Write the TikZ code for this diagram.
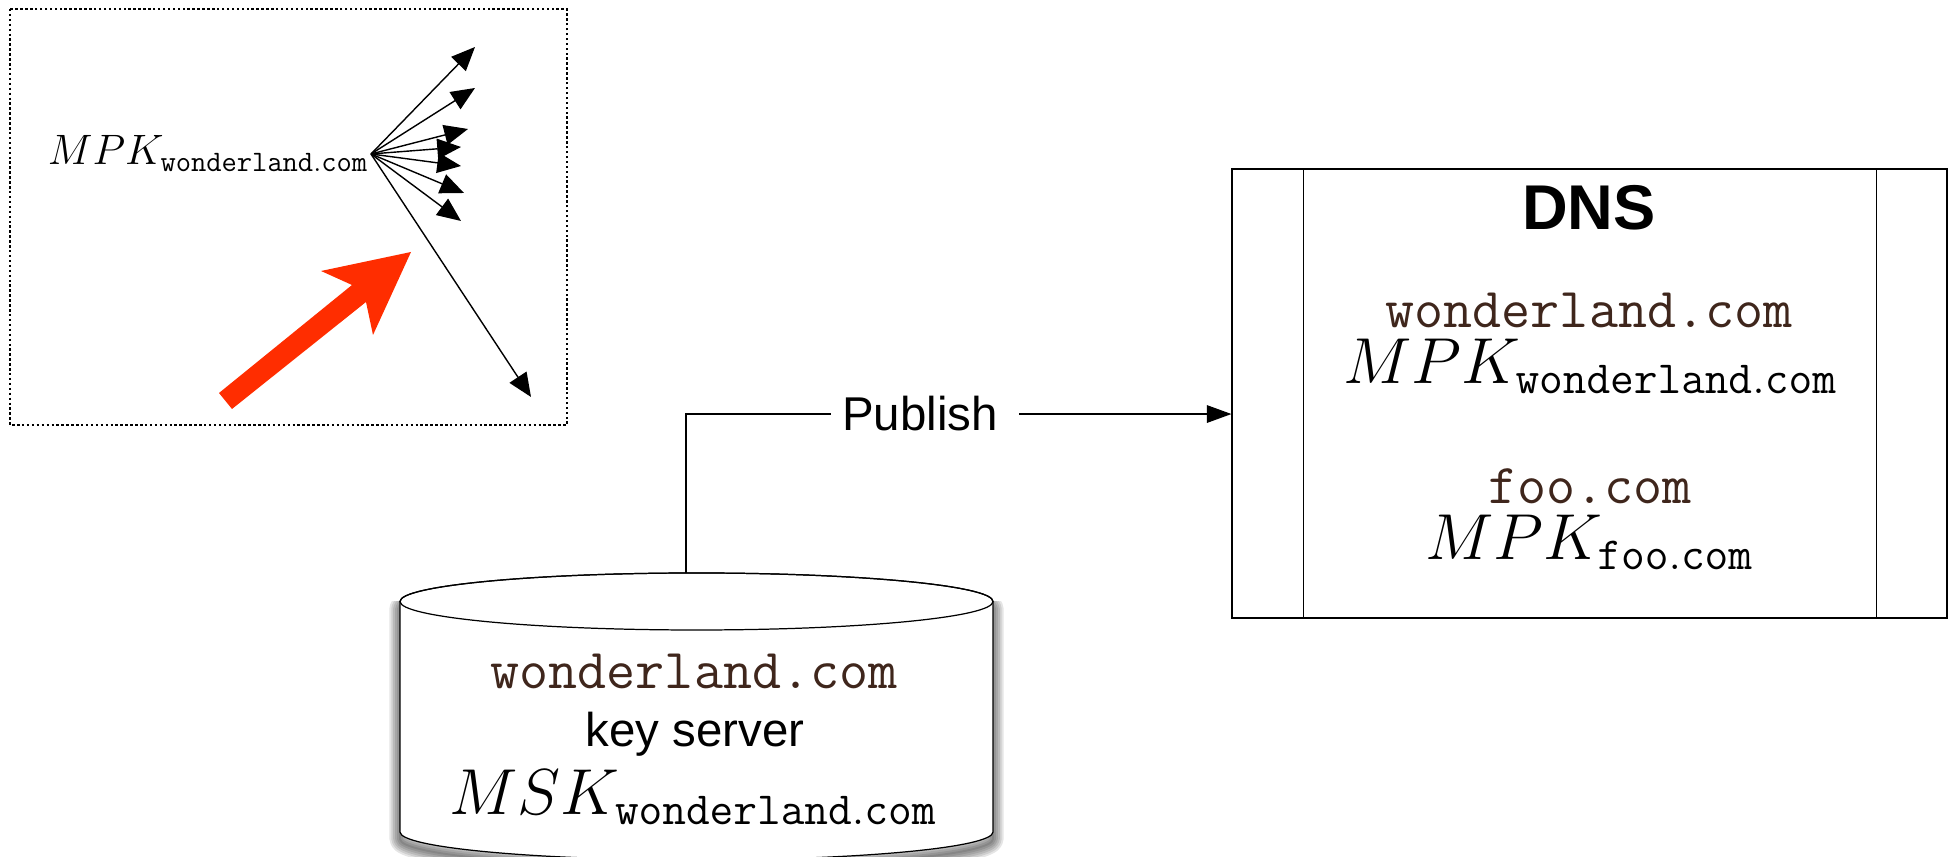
\documentclass[tikz,border=0pt]{standalone}
\usepackage{amsmath}
\usepackage{fix-cm}
\usepackage[no-math]{fontspec}
\setmainfont{Liberation Sans}
\usetikzlibrary{positioning,calc,arrows.meta}

\DeclareMathSizes{37}{37}{26.2}{20}
\DeclareMathSizes{24.2}{24.2}{16.9}{12}

\definecolor{domainbrown}{HTML}{3F261C}
\definecolor{alertred}{HTML}{FF2D00}

\tikzset{
  domaintext/.style={anchor=base,inner sep=0pt,text=domainbrown,font={\fontsize{32.1}{35}\selectfont\ttfamily}},
  keyname/.style={anchor=base,inner sep=0pt,font={\fontsize{37}{40}\selectfont}},
  plainlabel/.style={anchor=base,inner sep=0pt,font={\fontsize{27}{30}\selectfont}},
  fanarrow/.style={line width=0.8pt,-{Triangle[length=13.5pt,width=11.5pt]}},
  publine/.style={line width=0.7pt},
}

\begin{document}
\begin{tikzpicture}[x=0.02cm,y=0.02cm]

\useasboundingbox (0,0) rectangle (1953,857);

\def\serverbody{(400,255.5) -- (400,25) arc[start angle=180,end angle=360,x radius=296.5,y radius=28] -- (993,255.5) arc[start angle=0,end angle=180,x radius=296.5,y radius=28.5]}

% master key panel
\draw[line width=1.6pt,dash pattern=on 1.4pt off 1.4pt] (10,848) rectangle (567,432);
\node[anchor=base,inner sep=0pt,font={\fontsize{24.2}{27}\selectfont}] (panelkey) at (208,692) {$MPK_{\mathtt{wonderland.com}}$};

\coordinate (fan) at (371,703);
\foreach \i/\tipx/\tipy in {1/475/810,2/475/769,3/468/728,4/461/710,5/461/691,6/464/664,7/461/636,8/531/460}{
  \coordinate (tip\i) at (\tipx,\tipy);
  \draw[fanarrow] (fan) -- (tip\i);
}

\fill[alertred] (219,464) -- (232,448) -- (366,555) -- (373,522) -- (411,605) -- (321,586) -- (352,572) -- cycle;

% key server
\begin{scope}
  \clip (370,-10) rectangle (1023,255);
  \foreach \w in {22,18,14,10,6,2}{
    \draw[black,opacity=0.1,line width=\w*0.55pt,line join=round,yshift=-0.14cm] \serverbody -- cycle;
  }
\end{scope}
\fill[white] \serverbody -- cycle;
\draw[publine] \serverbody;
\draw[publine] (696.5,255.5) ellipse [x radius=296.5,y radius=28.5];
\coordinate (servertop) at (686,284);

\node[domaintext] (serverdomain) at (694,168) {wonderland.com};
\node[plainlabel] (serverlabel) at (695,110) {key server};
\node[keyname] (serverkey) at (693,42) {$MSK_{\mathtt{wonderland.com}}$};

% dns table
\node[draw,line width=0.7pt,minimum width=14.3cm,minimum height=8.98cm,inner sep=0pt] (dns) at (1589.5,463.5) {};
\draw[publine] ($(dns.north west)+(72,0)$) -- ($(dns.south west)+(72,0)$);
\draw[publine] ($(dns.north east)+(-71,0)$) -- ($(dns.south east)+(-71,0)$);

\node[anchor=base,inner sep=0pt,font={\fontsize{36}{40}\selectfont\bfseries}] (dnstitle) at (1589,627) {DNS};
\node[domaintext] (dnsdomainone) at (1589,529) {wonderland.com};
\node[keyname] (dnskeyone) at (1590,473) {$MPK_{\mathtt{wonderland.com}}$};
\node[domaintext] (dnsdomaintwo) at (1590,353) {foo.com};
\node[keyname] (dnskeytwo) at (1589,297) {$MPK_{\mathtt{foo.com}}$};

% publish connector
\node[plainlabel] (publish) at (920,426) {Publish};
\draw[publine,shorten >=6.3pt] (servertop) |- (publish.west);
\draw[publine,-{Triangle[length=14pt,width=10pt]},shorten <=12pt] (publish.east) -- (publish.east -| dns.west);

\end{tikzpicture}
\end{document}
